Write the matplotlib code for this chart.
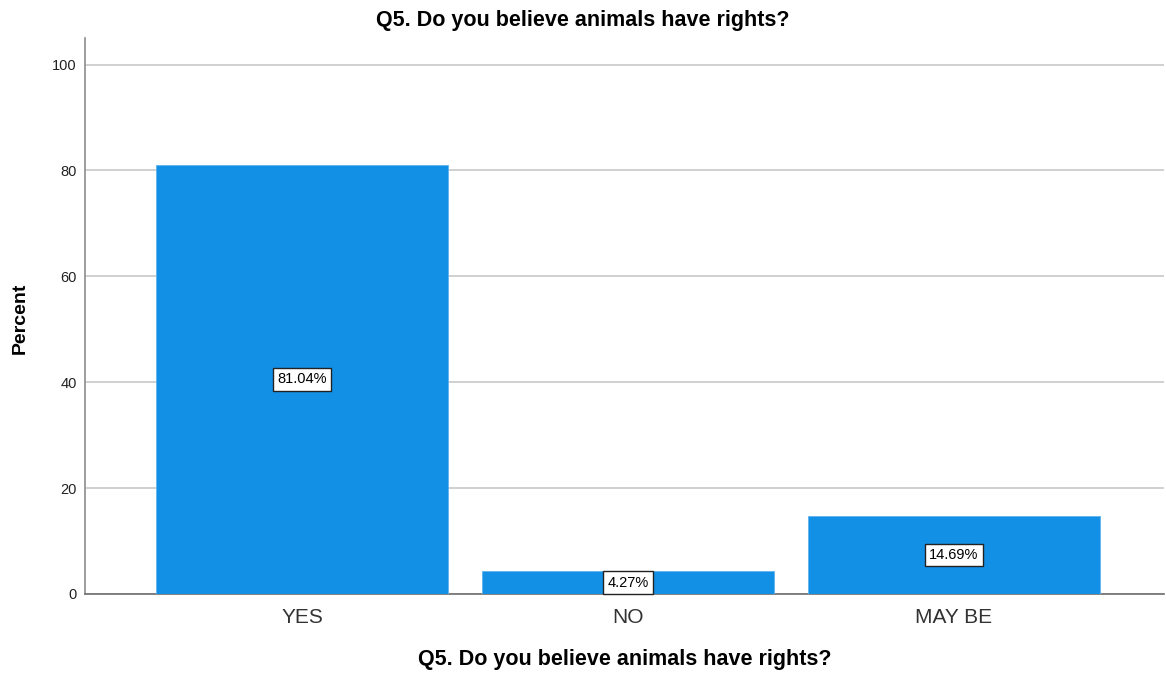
import matplotlib.pyplot as plt
import numpy as np

plt.rcParams['font.family'] = ['Liberation Sans', 'DejaVu Sans']

categories = ['YES', 'NO', 'MAY BE']
percents = [81.04, 4.27, 14.69]
title = 'Q5. Do you believe animals have rights?'

fig = plt.figure(figsize=(11.66, 6.78), dpi=100)
ax = fig.add_axes([0.0729, 0.1239, 0.925, 0.82])

x = np.arange(len(categories))
bars = ax.bar(x, percents, width=0.896, color='#1290e6',
              edgecolor='#5fb3ee', linewidth=0.6, zorder=3)

for xi, val in zip(x, percents):
    ax.text(xi, val / 2, f'{val:.2f}%', ha='center', va='center',
            fontsize=10.5, color='black', zorder=4,
            bbox=dict(boxstyle='square,pad=0.3', fc='white', ec='#222222', lw=1.0))

ax.set_xlim(-0.666, 2.644)
ax.set_ylim(0, 105)
ax.set_yticks([0, 20, 40, 60, 80, 100])
ax.set_xticks(x)
ax.set_xticklabels(categories, fontsize=15, color='#333333')
ax.tick_params(axis='y', labelsize=10.5, length=0, pad=6, colors='#222222')
ax.tick_params(axis='x', length=0, pad=10)
ax.grid(axis='y', color='#c8c8c8', linewidth=1.2, zorder=0)

for side in ['top', 'right']:
    ax.spines[side].set_visible(False)
ax.spines['left'].set_color('#8c8c8c')
ax.spines['bottom'].set_color('#6e6e6e')
ax.spines['left'].set_linewidth(1.2)
ax.spines['bottom'].set_linewidth(1.2)

fig.suptitle(title, fontsize=15.5, fontweight='bold', x=0.5, y=1 - 20.5 / 678, va='center')
ax.set_xlabel(title, fontsize=15.5, fontweight='bold')
ax.xaxis.set_label_coords(0.5, -0.1187)
ax.xaxis.label.set_va('center')
ax.set_ylabel('Percent', fontsize=14, fontweight='bold')
ax.yaxis.set_label_coords(-0.0602, 0.495)
ax.yaxis.label.set_va('center')

fig.savefig('out.png', dpi=100)
